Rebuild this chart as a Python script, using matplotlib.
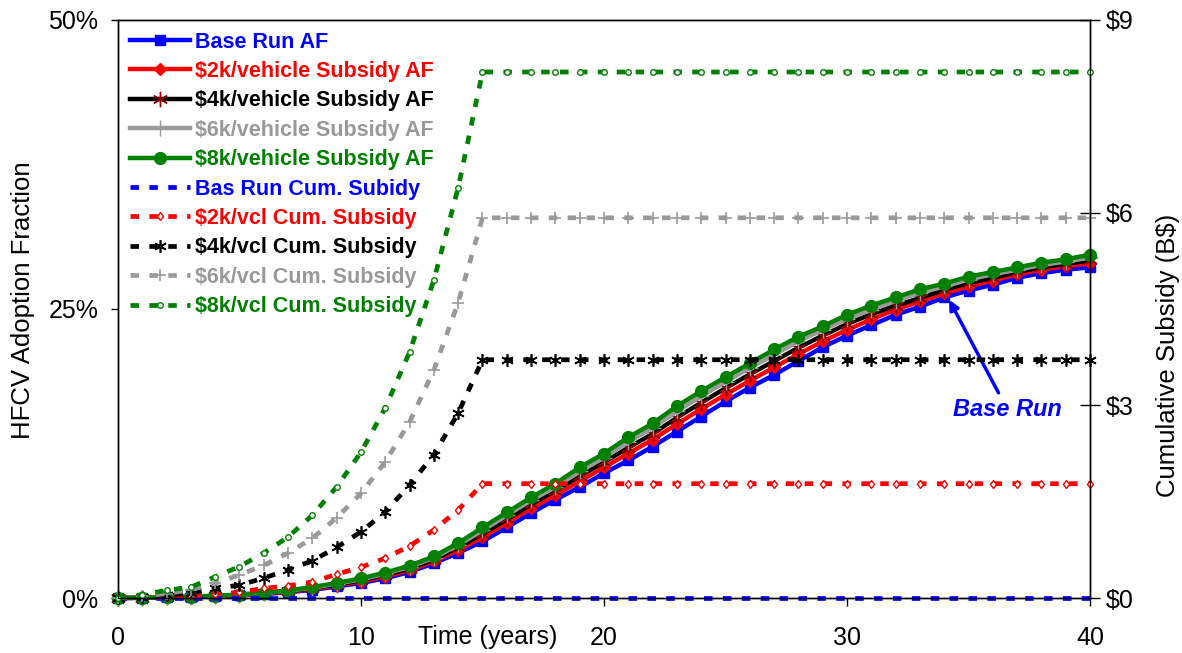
import numpy as np
import matplotlib
matplotlib.use("Agg")
import matplotlib.pyplot as plt

plt.rcParams['font.family'] = ['Liberation Sans', 'DejaVu Sans']

# Data ---------------------------------------------------------------------------------------------
years = np.arange(0, 41)

# HFCV adoption fraction (%)
af_base = [0, 0.02, 0.05, 0.08, 0.15, 0.22, 0.35, 0.5, 0.7, 1.0, 1.3, 1.7, 2.25, 3.0, 3.9, 4.9,
           6.1, 7.35, 8.5, 9.6, 10.8, 11.9, 13.1, 14.4, 15.7, 17.0, 18.2, 19.3, 20.5, 21.7,
           22.7, 23.6, 24.5, 25.2, 26.0, 26.6, 27.1, 27.7, 28.1, 28.4, 28.6]
af_2k   = [0, 0.02, 0.05, 0.09, 0.16, 0.24, 0.38, 0.55, 0.78, 1.09, 1.42, 1.85, 2.4, 3.18, 4.15,
           5.25, 6.5, 7.75, 8.9, 10.1, 11.3, 12.5, 13.7, 15.05, 16.35, 17.6, 18.8, 19.95, 21.1,
           22.2, 23.2, 24.1, 24.95, 25.65, 26.35, 26.95, 27.45, 28.0, 28.4, 28.7, 28.95]
af_4k   = [0, 0.02, 0.06, 0.10, 0.18, 0.26, 0.41, 0.58, 0.84, 1.16, 1.52, 1.98, 2.55, 3.33, 4.37,
           5.55, 6.8, 8.1, 9.3, 10.55, 11.75, 13.0, 14.2, 15.6, 16.9, 18.15, 19.35, 20.5, 21.65,
           22.7, 23.7, 24.55, 25.3, 25.95, 26.65, 27.25, 27.7, 28.2, 28.6, 28.9, 29.2]
af_6k   = [0, 0.03, 0.07, 0.11, 0.19, 0.28, 0.43, 0.62, 0.9, 1.24, 1.62, 2.1, 2.7, 3.48, 4.58,
           5.85, 7.15, 8.45, 9.6, 10.95, 12.15, 13.5, 14.7, 16.15, 17.45, 18.7, 19.9, 21.05, 22.2,
           23.2, 24.15, 24.95, 25.7, 26.4, 26.95, 27.55, 28.0, 28.4, 28.8, 29.1, 29.45]
af_8k   = [0, 0.03, 0.07, 0.12, 0.2, 0.3, 0.45, 0.65, 0.95, 1.3, 1.7, 2.2, 2.8, 3.6, 4.75, 6.1,
           7.4, 8.7, 9.9, 11.3, 12.5, 13.9, 15.1, 16.6, 17.9, 19.1, 20.3, 21.5, 22.6, 23.5,
           24.5, 25.3, 26.0, 26.7, 27.2, 27.8, 28.2, 28.6, 29.0, 29.3, 29.7]

# Cumulative subsidy (B$)
cs_base = [0.0, 0.0, 0.0, 0.0, 0.0, 0.0, 0.0, 0.0, 0.0, 0.0, 0.0, 0.0, 0.0, 0.0, 0.0, 0.0,
           0.0, 0.0, 0.0, 0.0, 0.0, 0.0, 0.0, 0.0, 0.0, 0.0, 0.0, 0.0, 0.0, 0.0, 0.0, 0.0,
           0.0, 0.0, 0.0, 0.0, 0.0, 0.0, 0.0, 0.0, 0.0]
cs_2k   = [0, 0.01, 0.02, 0.03, 0.06, 0.09, 0.15, 0.19, 0.25, 0.37, 0.48, 0.62, 0.81, 1.06, 1.37,
           1.78, 1.78, 1.78, 1.78, 1.78, 1.78, 1.78, 1.78, 1.78, 1.78, 1.78, 1.78, 1.78, 1.78,
           1.78, 1.78, 1.78, 1.78, 1.78, 1.78, 1.78, 1.78, 1.78, 1.78, 1.78, 1.78]
cs_4k   = [0, 0.02, 0.04, 0.08, 0.15, 0.2, 0.31, 0.44, 0.58, 0.79, 1.03, 1.34, 1.76, 2.23, 2.88,
           3.71, 3.71, 3.71, 3.71, 3.71, 3.71, 3.71, 3.71, 3.71, 3.71, 3.71, 3.71, 3.71, 3.71,
           3.71, 3.71, 3.71, 3.71, 3.71, 3.71, 3.71, 3.71, 3.71, 3.71, 3.71, 3.71]
cs_6k   = [0, 0.03, 0.07, 0.13, 0.23, 0.36, 0.51, 0.70, 0.93, 1.25, 1.63, 2.12, 2.74, 3.55, 4.6,
           5.92, 5.92, 5.92, 5.92, 5.92, 5.92, 5.92, 5.92, 5.92, 5.92, 5.92, 5.92, 5.92, 5.92,
           5.92, 5.92, 5.92, 5.92, 5.92, 5.92, 5.92, 5.92, 5.92, 5.92, 5.92, 5.92]
cs_8k   = [0, 0.05, 0.12, 0.17, 0.33, 0.49, 0.70, 0.95, 1.29, 1.73, 2.27, 2.96, 3.83, 4.95, 6.39,
           8.19, 8.19, 8.19, 8.19, 8.19, 8.19, 8.19, 8.19, 8.19, 8.19, 8.19, 8.19, 8.19, 8.19,
           8.19, 8.19, 8.19, 8.19, 8.19, 8.19, 8.19, 8.19, 8.19, 8.19, 8.19, 8.19]

af_labels = ['Base Run AF', '\\$2k/vehicle Subsidy AF', '\\$4k/vehicle Subsidy AF',
             '\\$6k/vehicle Subsidy AF', '\\$8k/vehicle Subsidy AF']
cs_labels = ['Bas Run Cum. Subidy', '\\$2k/vcl Cum. Subsidy', '\\$4k/vcl Cum. Subsidy',
             '\\$6k/vcl Cum. Subsidy', '\\$8k/vcl Cum. Subsidy']

colors = ['#0000FF', '#FF0000', '#000000', '#999999', '#008000']

# Plot ---------------------------------------------------------------------------------------------
fig = plt.figure(figsize=(11.82, 6.53), dpi=100)
ax = fig.add_axes([0.0998, 0.0842, 0.8224, 0.8852])
ax2 = ax.twinx()

af_series = [af_base, af_2k, af_4k, af_6k, af_8k]
af_style = [
    dict(marker='s', ms=6.5, mfc=colors[0], mec=colors[0]),
    dict(marker='D', ms=6.5, mfc=colors[1], mec=colors[1]),
    dict(marker=(6, 2, 0), ms=11, mfc='none', mec='#8B0000', mew=1.0),
    dict(marker='+', ms=11, mfc='none', mec=colors[3], mew=1.0),
    dict(marker='o', ms=8.5, mfc=colors[4], mec=colors[4]),
]
handles = []
for vals, lab, col, st in zip(af_series, af_labels, colors, af_style):
    h, = ax.plot(years, vals, color=col, lw=3.2, label=lab, clip_on=False, **st)
    handles.append(h)

cs_series = [cs_base, cs_2k, cs_4k, cs_6k, cs_8k]
cs_style = [
    dict(marker=None),
    dict(marker='d', ms=4.5, mfc='white', mec=colors[1], mew=1.0),
    dict(marker=(6, 2, 0), ms=9, mec=colors[2], mew=1.2),
    dict(marker='+', ms=8, mec=colors[3], mew=1.2),
    dict(marker='o', ms=4, mfc='white', mec=colors[4], mew=1.0),
]
for vals, lab, col, st in zip(cs_series, cs_labels, colors, cs_style):
    h, = ax2.plot(years, vals, color=col, lw=3.4, ls=(0, (1.8, 2.2)), label=lab,
                  clip_on=False, **st)
    handles.append(h)

# Axes ---------------------------------------------------------------------------------------------
ax.set_xlim(0, 40)
ax.set_ylim(0, 50)
ax2.set_ylim(0, 9)

ax.set_xticks([0, 10, 20, 30, 40])
ax.set_yticks([0, 25, 50])
ax.set_yticklabels(['0%', '25%', '50%'])
ax2.set_yticks([0, 3, 6, 9])
ax2.set_yticklabels(['\\$0', '\\$3', '\\$6', '\\$9'])

ax.tick_params(axis='x', direction='out', length=6, width=1, pad=14, labelsize=18)
ax.tick_params(axis='y', direction='out', length=5, width=1, pad=9, labelsize=18)
ax2.tick_params(axis='y', direction='inout', length=14, width=1, pad=4, labelsize=18)

ax.set_ylabel('HFCV Adoption Fraction', fontsize=18.5)
ax.yaxis.set_label_coords(-0.085, 0.515)
ax2.set_ylabel('Cumulative Subsidy (B\\$)', fontsize=18.5)
ax2.yaxis.set_label_coords(1.068, 0.42)
ax.set_xlabel('Time (years)', fontsize=18)
ax.xaxis.set_label_coords(0.38, -0.047)

for a in (ax, ax2):
    for s in a.spines.values():
        s.set_linewidth(1.0)

# Legend
leg = ax2.legend(handles=handles, loc='upper left', bbox_to_anchor=(0.012, 0.98),
                 frameon=False, borderaxespad=0, borderpad=0, handlelength=2.8,
                 handletextpad=0.25, labelspacing=0.39,
                 prop={'family': 'Liberation Sans', 'weight': 'bold', 'size': 15.5})
for txt, col in zip(leg.get_texts(), colors + colors):
    txt.set_color(col)

# Annotation
ax.annotate('Base Run', xy=(34.2, 25.8), xytext=(36.6, 16.3),
            ha='center', va='center', color='#0000FF', fontsize=17,
            fontweight='bold', fontstyle='italic',
            arrowprops=dict(arrowstyle='-|>', color='#0000FF', lw=2.5,
                            mutation_scale=14, shrinkA=2, shrinkB=0))

fig.savefig('out.png', dpi=100)
